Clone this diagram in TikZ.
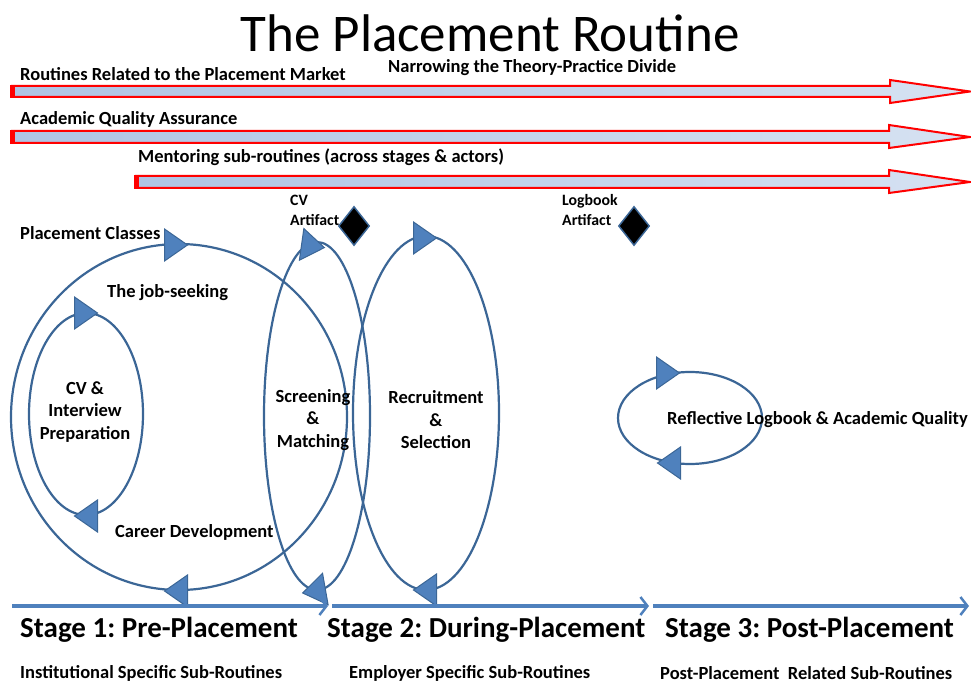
\documentclass[tikz,border=0pt]{standalone}
\usepackage{fontspec}
\setmainfont{Carlito}
\frenchspacing
\usetikzlibrary{shapes.geometric,arrows.meta}
\definecolor{edgeblue}{HTML}{3B6696}
\definecolor{triblue}{HTML}{4F81BD}
\definecolor{barleft}{HTML}{AFC4E4}
\definecolor{barright}{HTML}{D6E2F2}
\begin{document}
\begin{tikzpicture}[x=1pt,y=-1pt,
  loop/.style={ellipse,draw=edgeblue,line width=2.2pt,inner sep=0pt},
  lbl/.style={font=\bfseries\fontsize{18.5}{22}\selectfont,inner sep=0pt},
  mid/.style={font=\bfseries\fontsize{18.5}{22.5}\selectfont,align=center,inner sep=0pt},
  small/.style={font=\bfseries\fontsize{15.8}{20}\selectfont,align=left,inner sep=0pt,anchor=west},
  stage/.style={font=\bfseries\fontsize{29}{32}\selectfont,inner sep=0pt,anchor=west},
  sub/.style={font=\bfseries\fontsize{18.5}{22}\selectfont,inner sep=0pt,anchor=west},
  band/.style={draw=red,line width=2pt,left color=barleft,right color=barright,line join=miter},
  artifact/.style={diamond,fill=black,draw=edgeblue,line width=1.5pt,inner sep=0pt,minimum width=31pt,minimum height=39pt},
  timeline/.style={draw=triblue,line width=3.5pt,-{Straight Barb[length=7,width=18,line width=2.5pt]}},
  tri/.pic={\filldraw[fill=triblue,draw=edgeblue,line width=1pt,line join=miter]
    (-11.5,-16) -- (11.5,0) -- (-11.5,16) -- cycle;}
]
\useasboundingbox (0,0) rectangle (971,684);

% title
\node[font=\fontsize{53}{56}\selectfont,inner sep=0pt] (title) at (490,33) {The Placement Routine};

% cross-cutting routines as long block arrows
\path[band] (12,86) -- (890,86) -- (890,80) -- (970,91.5) -- (890,103) -- (890,97) -- (12,97) -- cycle;
\draw[red,line width=5pt] (12.5,85) -- (12.5,98);
\path[band] (12,131) -- (889,131) -- (889,125) -- (970,137) -- (889,148) -- (889,143) -- (12,143) -- cycle;
\draw[red,line width=5pt] (12.5,130) -- (12.5,144);
\path[band] (136,176) -- (889,176) -- (889,170) -- (970,182) -- (889,193) -- (889,188) -- (136,188) -- cycle;
\draw[red,line width=5pt] (136.5,175) -- (136.5,189);

\node[lbl,anchor=west] (market) at (20,74) {Routines Related to the Placement Market};
\node[lbl,anchor=west] (divide) at (388,68) {Narrowing the Theory-Practice Divide};
\node[lbl,anchor=west] (quality) at (20,119) {Academic Quality Assurance};
\node[lbl,anchor=west] (mentor) at (138,157) {Mentoring sub-routines (across stages \& actors)};

% artifacts
\node[small] (cvtext) at (290,210) {CV\\Artifact};
\node[artifact] (cvart) at (354,226) {};
\node[small] (logtext) at (562,210) {Logbook\\Artifact};
\node[artifact] (logart) at (634,226) {};

% sub-routine loops
\node[loop,minimum width=336pt,minimum height=346pt] (classes) at (179,417) {};
\node[loop,minimum width=114pt,minimum height=202pt] (prep) at (86,414) {};
\node[loop,minimum width=106pt,minimum height=348pt] (screen) at (317,416) {};
\node[loop,minimum width=146pt,minimum height=354pt] (recruit) at (426,413) {};
\node[loop,minimum width=144pt,minimum height=92pt] (reflect) at (690,418) {};

% direction marks on the loops
\pic at (176,245) {tri};
\pic[rotate=180] at (176,591) {tri};
\pic at (86,313) {tri};
\pic[rotate=180] at (86,516) {tri};
\pic[rotate=-8] at (313,246) {tri};
\pic[rotate=190] at (314,591) {tri};
\pic at (425,238) {tri};
\pic[rotate=180] at (425,590) {tri};
\pic at (668,373) {tri};
\pic[rotate=180] at (669,463) {tri};

% loop labels
\node[lbl,anchor=west] (classlbl) at (20,233) {Placement Classes};
\node[lbl,anchor=west] (joblbl) at (107,293) {The job-seeking};
\node[lbl,anchor=west] (careerlbl) at (115,532) {Career Development};
\node[mid] (preplbl) at (85,412) {CV \&\\Interview\\Preparation};
\node[mid] (screenlbl) at (313,420) {Screening\\\&\\Matching};
\node[mid] (recruitlbl) at (436,420) {Recruitment\\\&\\Selection};
\node[mid,anchor=west] (reflectlbl) at (667,420) {Reflective Logbook \& Academic Quality};

% stage timeline
\coordinate (s1a) at (12,606);
\coordinate (s1b) at (328,606);
\coordinate (s2a) at (332,606);
\coordinate (s2b) at (649,606);
\coordinate (s3a) at (653,606);
\coordinate (s3b) at (969,606);
\draw[timeline] (s1a) -- (s1b);
\draw[timeline] (s2a) -- (s2b);
\draw[timeline] (s3a) -- (s3b);

\node[stage] (st1) at (20,630) {Stage 1: Pre-Placement};
\node[stage] (st2) at (327,630) {Stage 2: During-Placement};
\node[stage] (st3) at (665,630) {Stage 3: Post-Placement};

\node[sub] (sub1) at (20,673) {Institutional Specific Sub-Routines};
\node[sub] (sub2) at (349,673) {Employer Specific Sub-Routines};
\node[sub] (sub3) at (660,673) {Post-Placement\ \ Related Sub-Routines};
\end{tikzpicture}
\end{document}
